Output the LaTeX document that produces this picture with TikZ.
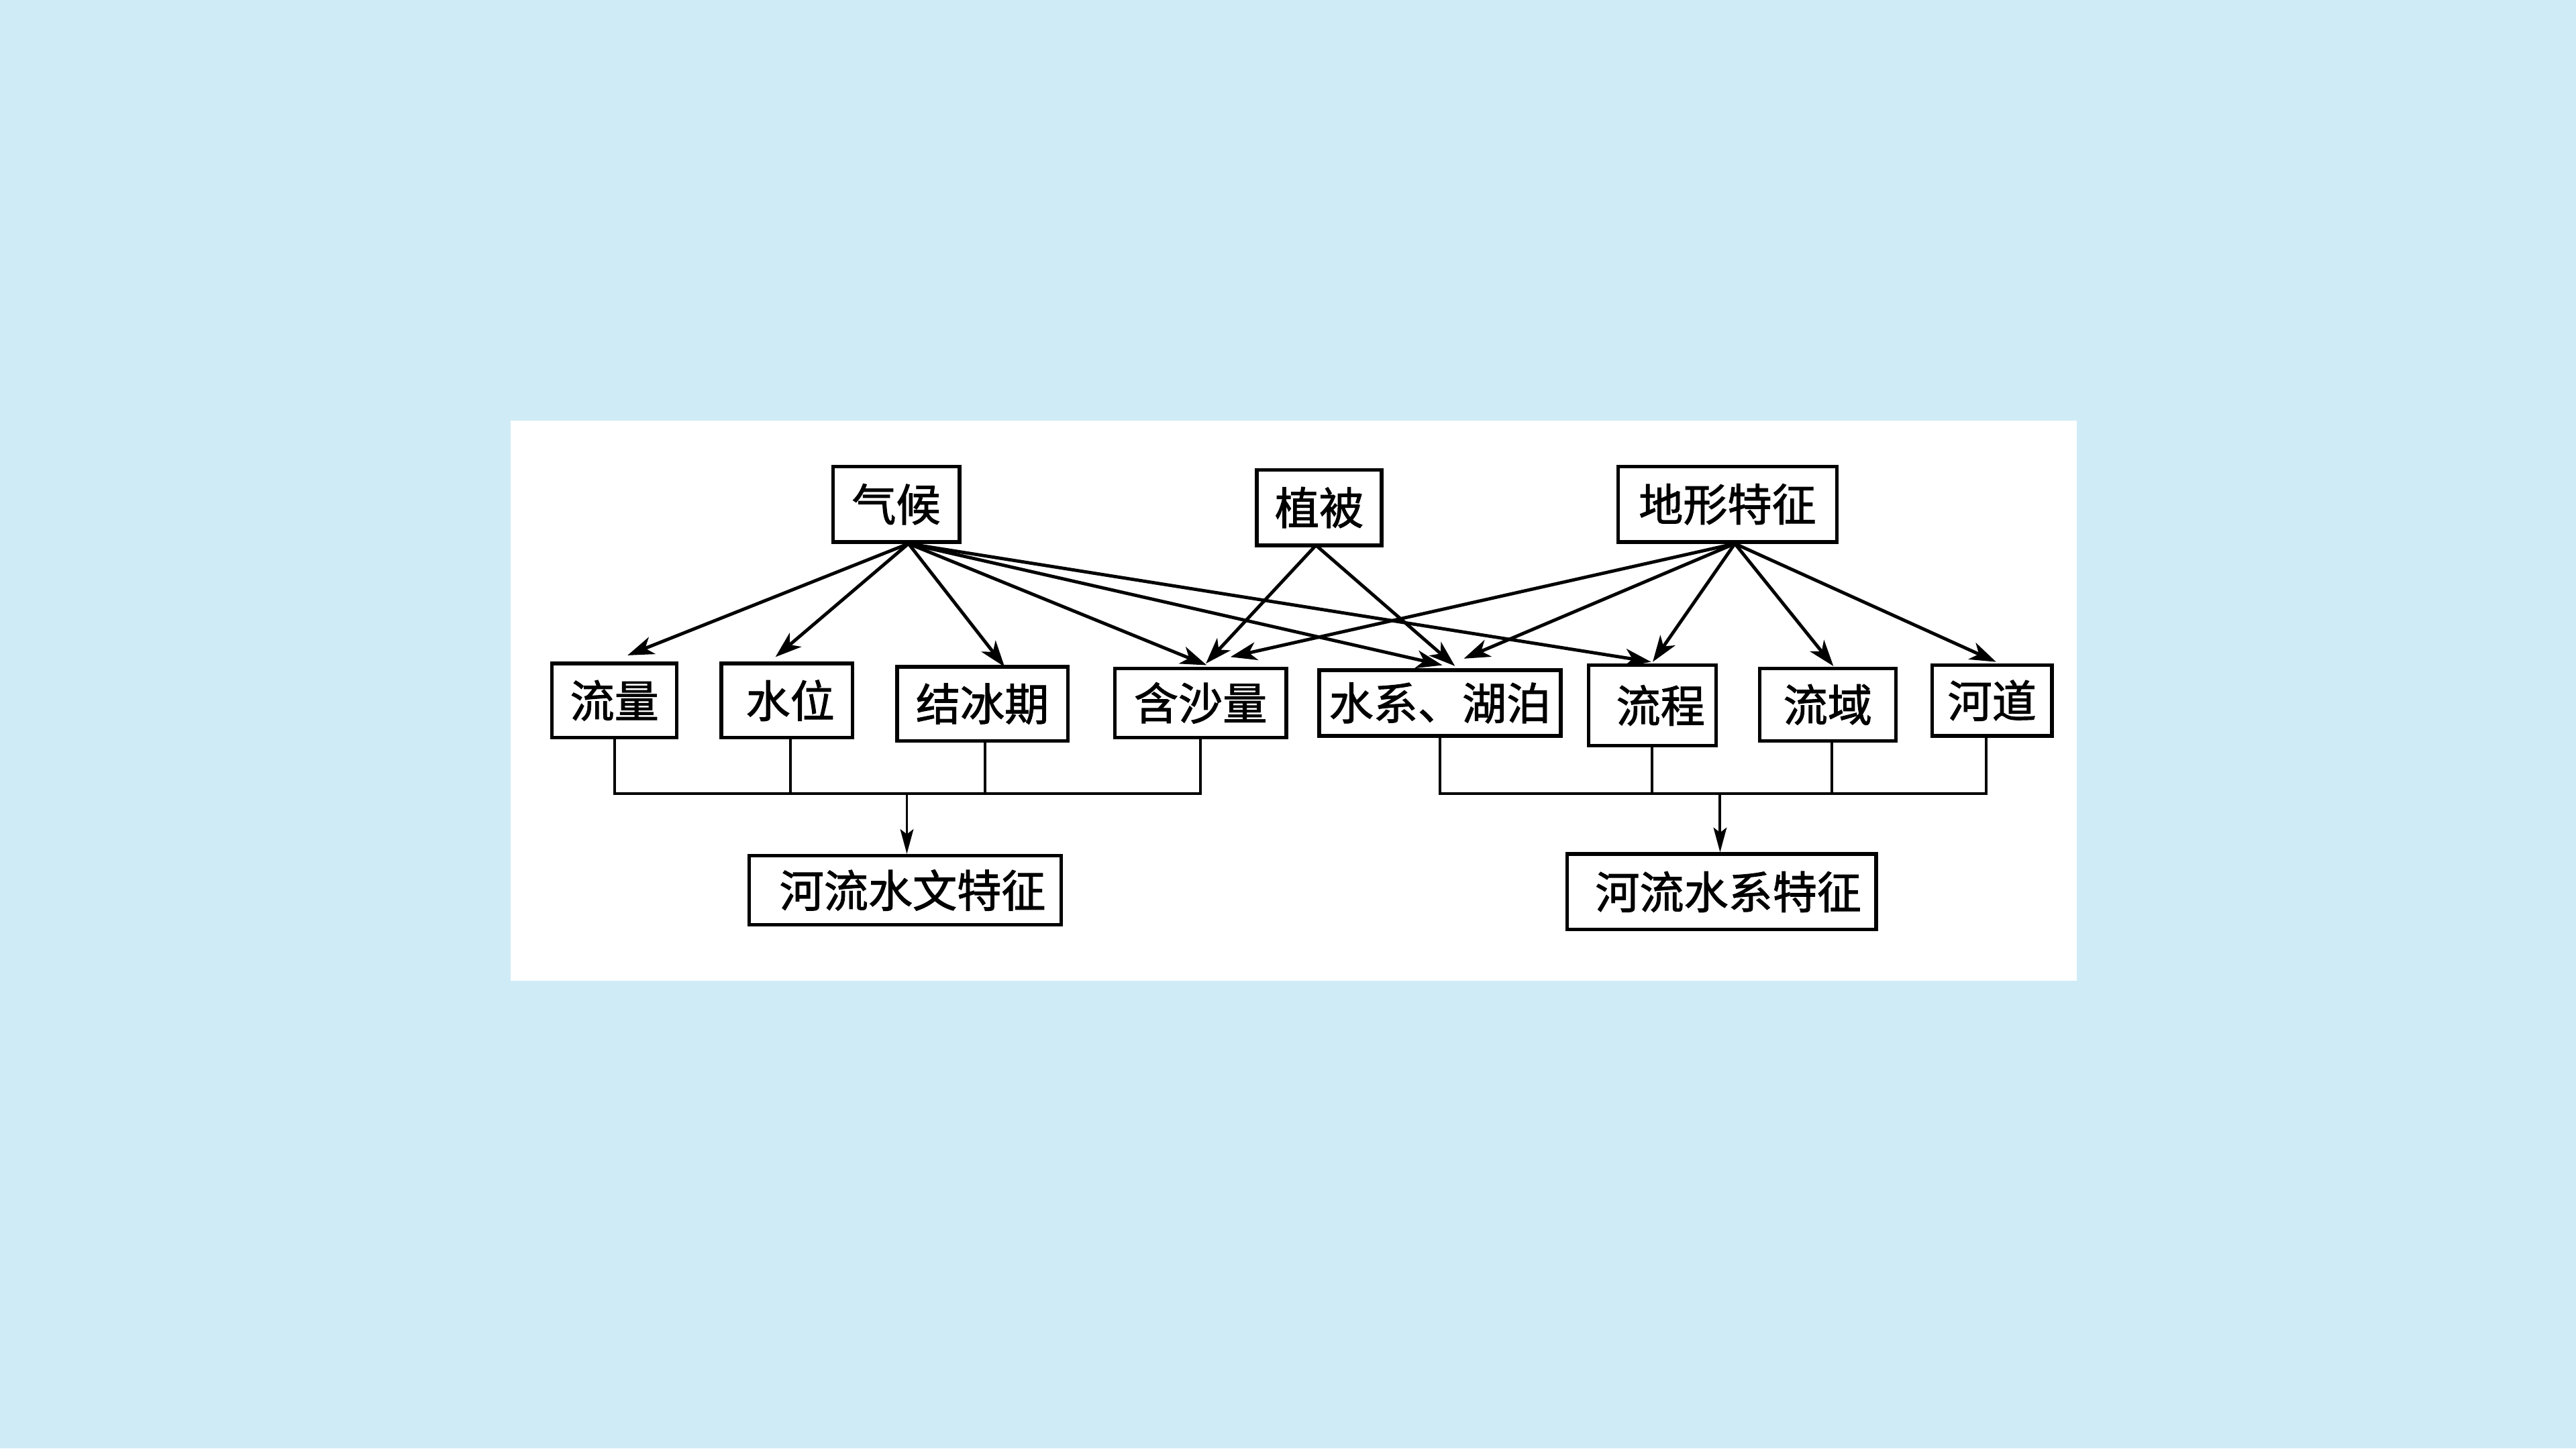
\documentclass[tikz,border=0pt]{standalone}
\usepackage{fontspec}
\newfontfamily\cjk[FakeBold=1.5]{Noto Sans CJK SC}
\usetikzlibrary{arrows.meta}
\definecolor{bgblue}{RGB}{207,236,246}
\begin{document}
\begin{tikzpicture}[x=1pt,y=-1pt,
  box/.style={draw=black,line width=2.2pt,fill=white,inner sep=0pt,
    font=\cjk\fontsize{27}{27}\selectfont},
  arr/.style={line width=2pt,-{Stealth[length=16pt,width=11pt,inset=4.5pt]}},
  bus/.style={line width=1.6pt},
  busarr/.style={line width=1.6pt,-{Stealth[length=15pt,width=8pt,inset=3pt]}}]
\fill[bgblue] (0,0) rectangle (1568,882);
\useasboundingbox (0,0) rectangle (1568,882);
\fill[white] (311,256) rectangle (1264,597);
% top row
\node[box,minimum width=77pt,minimum height=46pt] (qh) at (545.5,307) {气候};
\node[box,minimum width=76pt,minimum height=46pt] (zb) at (803,309) {植被};
\node[box,minimum width=133pt,minimum height=46pt] (dx) at (1051.5,307) {地形特征};
% middle row
\node[box,minimum width=76pt,minimum height=45pt] (ll) at (374,426.5) {流量};
\node[box,minimum width=80pt,minimum height=45pt] (sw) at (479,426.5) {\hspace{4pt}水位};
\node[box,minimum width=104pt,minimum height=45pt] (jb) at (598,428.5) {结冰期};
\node[box,minimum width=104.5pt,minimum height=42pt] (hs) at (730.75,428) {含沙量};
\node[box,minimum width=147pt,minimum height=40pt] (sx) at (876.5,428) {水系、湖泊};
\node[box,minimum width=77.5pt,minimum height=49pt] (lc) at (1005.75,429.5) {\hspace{10pt}流程};
\node[box,minimum width=83pt,minimum height=44pt] (ly) at (1112.5,429) {流域};
\node[box,minimum width=73pt,minimum height=43pt] (hd) at (1212.5,426.5) {河道};
% bottom row
\node[box,minimum width=190pt,minimum height=42pt] (wt) at (551,542) {\hspace{9pt}河流水文特征};
\node[box,minimum width=188pt,minimum height=46pt] (wx) at (1048,543) {\hspace{8pt}河流水系特征};
% arrow origins and tips
\coordinate (qhO) at (553,331);
\coordinate (zbO) at (801,332);
\coordinate (dxO) at (1056,331);
\coordinate (tLL) at (382,399);
\coordinate (tSW) at (472,400);
\coordinate (tJB) at (611.5,406);
\coordinate (tHSa) at (734.5,405);
\coordinate (tHSb) at (734,404);
\coordinate (tHSc) at (749,400);
\coordinate (tSXa) at (878,405);
\coordinate (tSXb) at (885.6,405.5);
\coordinate (tSXc) at (891,401);
\coordinate (tLCa) at (1005,403);
\coordinate (tLCb) at (1006,403);
\coordinate (tLY) at (1116,405.6);
\coordinate (tHD) at (1215,403);
% climate
\draw[arr] (qhO) -- (tLL);
\draw[arr] (qhO) -- (tSW);
\draw[arr] (qhO) -- (tJB);
\draw[arr] (qhO) -- (tHSa);
\draw[arr] (qhO) -- (tSXa);
\draw[arr] (qhO) -- (tLCa);
% vegetation
\draw[arr] (zbO) -- (tHSb);
\draw[arr] (zbO) -- (tSXb);
% terrain
\draw[arr] (dxO) -- (tHSc);
\draw[arr] (dxO) -- (tSXc);
\draw[arr] (dxO) -- (tLCb);
\draw[arr] (dxO) -- (tLY);
\draw[arr] (dxO) -- (tHD);
% left bus
\coordinate (busL) at (552,483.3);
\draw[bus] (ll.south) |- (busL) -| (hs.south);
\draw[bus] ([xshift=2pt]sw.south) -- ([xshift=2pt]sw.south |- busL);
\draw[bus] ([xshift=1.7pt]jb.south) -- ([xshift=1.7pt]jb.south |- busL);
\draw[busarr] (busL) -- (busL |- wt.north);
% right bus
\coordinate (busR) at (1047,483.3);
\draw[bus] (sx.south) |- (busR) -| ([xshift=-3.5pt]hd.south);
\draw[bus] (lc.south) -- (lc.south |- busR);
\draw[bus] ([xshift=2.5pt]ly.south) -- ([xshift=2.5pt]ly.south |- busR);
\draw[busarr] (busR) -- (busR |- wx.north);
\end{tikzpicture}
\end{document}
